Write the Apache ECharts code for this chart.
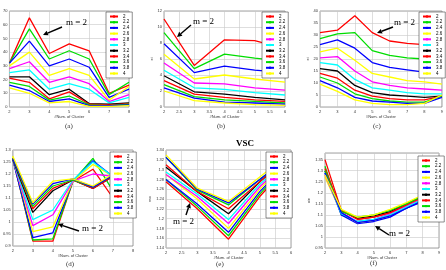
<!DOCTYPE html>
<html>
<head>
<meta charset="utf-8">
<script src="https://cdn.jsdelivr.net/npm/echarts@6/dist/echarts.min.js"></script>
<style>
  html, body { margin: 0; padding: 0; background: #fff; }
  #chart { width: 446px; height: 270px; }
</style>
</head>
<body>
<div id="chart"></div>
<script>
//--------------------------------
// Data
//--------------------------------
const mNames = ['2', '2.2', '2.4', '2.6', '2.8', '3', '3.2', '3.4', '3.6', '3.8', '4'];
const lineColors = ['#ff0000', '#00dd00', '#0000ff', '#ffff00', '#ff00ff', '#00ffff', '#000000',
                    '#ff0000', '#00dd00', '#0000ff', '#ffff00'];

// (a)
const xsA = [2, 3, 4, 5, 6, 7, 8];
const dataA = [
    [32, 65, 39, 46, 41, 10, 16],
    [32, 57, 35, 41, 35, 9, 18],
    [32, 48, 30, 35, 29, 7, 13],
    [30, 40, 23, 28, 23, 5, 15],
    [28, 33, 18, 22, 17, 4, 9],
    [25, 27, 13, 17, 13, 3, 7],
    [22, 22, 9, 13, 2.5, 2, 3],
    [21, 18, 6, 11, 2, 1.5, 2.5],
    [18, 15, 5, 8, 1.5, 1, 2],
    [16, 12, 4, 6, 1, 1, 1.5],
    [14, 10, 3, 4, 0.5, 0.5, 1]
];

// (b)
const xsB = [2, 3, 4, 5, 6];
const dataB = [
    [11, 5.2, 8.4, 8.3, 7.3],
    [9.3, 4.8, 6.6, 6.1, 5.7],
    [7.9, 4.3, 5.1, 4.6, 4.3],
    [6.6, 3.5, 4.0, 3.5, 3.1],
    [5.5, 3.0, 2.9, 2.4, 2.1],
    [4.6, 2.4, 2.2, 1.8, 1.5],
    [3.9, 1.9, 1.6, 1.2, 0.9],
    [3.3, 1.6, 1.2, 0.9, 0.7],
    [2.8, 1.3, 0.9, 0.7, 0.5],
    [2.4, 1.1, 0.6, 0.5, 0.35],
    [2.0, 0.8, 0.5, 0.3, 0.2]
];

// (c)
const xsC = [2, 3, 4, 5, 6, 7, 8, 9];
const dataC = [
    [31, 32, 38, 31, 27.5, 26.5, 26, 25],
    [28.5, 30.5, 31, 23.5, 21.5, 20.5, 20, 19.5],
    [26, 28, 24.5, 18.5, 16.5, 15.5, 14.5, 13.5],
    [23, 24.5, 19.5, 14, 12.5, 11, 10.5, 9.5],
    [20.5, 21, 15, 10.5, 9, 8, 7.5, 7],
    [18.5, 17.5, 11.5, 8, 7, 6, 5.5, 5.5],
    [16, 15, 9, 6, 5, 4.5, 4, 4.5],
    [14, 12, 7, 4.5, 3.5, 3, 3, 4.5],
    [12.5, 10, 5.5, 3.5, 2.5, 2, 2, 4.5],
    [11, 8, 4, 2.5, 2, 1.5, 1.5, 4],
    [9.5, 6.5, 3, 1.5, 1, 1, 1.5, 5]
];

// (d)
const xsD = [2, 3, 4, 5, 6, 7, 8];
const dataD = [
    [1.265, 0.92, 0.92, 1.17, 1.22, 1.10, 1.16],
    [1.265, 0.925, 0.93, 1.17, 1.265, 1.13, 1.19],
    [1.26, 0.935, 0.955, 1.17, 1.255, 1.19, 1.20],
    [1.27, 0.96, 0.98, 1.17, 1.24, 1.19, 1.22],
    [1.26, 0.985, 1.03, 1.17, 1.20, 1.19, 1.21],
    [1.26, 1.01, 1.05, 1.175, 1.25, 1.19, 1.21],
    [1.26, 1.04, 1.13, 1.175, 1.14, 1.19, 1.21],
    [1.265, 1.055, 1.14, 1.175, 1.14, 1.19, 1.21],
    [1.265, 1.065, 1.15, 1.175, 1.145, 1.195, 1.21],
    [1.265, 1.075, 1.16, 1.18, 1.145, 1.195, 1.20],
    [1.275, 1.08, 1.17, 1.18, 1.15, 1.20, 1.22]
];

// (e)
const xsE = [2, 3, 4, 5, 6];
const dataE = [
    [1.275, 1.22, 1.158, 1.245, 1.315],
    [1.28, 1.225, 1.165, 1.25, 1.32],
    [1.28, 1.23, 1.172, 1.255, 1.32],
    [1.29, 1.24, 1.18, 1.26, 1.325],
    [1.29, 1.245, 1.19, 1.265, 1.325],
    [1.295, 1.25, 1.198, 1.27, 1.325],
    [1.305, 1.255, 1.21, 1.275, 1.33],
    [1.31, 1.255, 1.22, 1.275, 1.33],
    [1.325, 1.258, 1.228, 1.28, 1.33],
    [1.325, 1.26, 1.232, 1.28, 1.33],
    [1.33, 1.262, 1.235, 1.285, 1.335]
];

// (f)
const xsF = [2, 3, 4, 5, 6, 7, 8];
const dataF = [
    [1.35, 1.12, 1.08, 1.09, 1.11, 1.14, 1.17],
    [1.32, 1.10, 1.07, 1.08, 1.10, 1.13, 1.17],
    [1.29, 1.10, 1.06, 1.07, 1.09, 1.13, 1.16],
    [1.27, 1.11, 1.065, 1.075, 1.10, 1.14, 1.17],
    [1.28, 1.11, 1.07, 1.08, 1.105, 1.14, 1.175],
    [1.29, 1.105, 1.07, 1.08, 1.10, 1.135, 1.17],
    [1.30, 1.12, 1.085, 1.095, 1.115, 1.15, 1.185],
    [1.31, 1.12, 1.08, 1.09, 1.11, 1.145, 1.18],
    [1.30, 1.115, 1.09, 1.10, 1.12, 1.15, 1.185],
    [1.29, 1.11, 1.065, 1.075, 1.095, 1.13, 1.165],
    [1.28, 1.125, 1.09, 1.10, 1.125, 1.155, 1.19]
];

const panelLabels = ['(a)', '(b)', '(c)', '(d)', '(e)', '(f)'];
const yNames = ['', 'ei', 'ei', '', 'vsc', 'xie'];

//--------------------------------
// Layout
//--------------------------------
const panels = [
    { xs: xsA, rows: dataA, grid: [7, 11, 122, 96], x: [2, 8, 1], y: [0, 70, 10], legend: [106, 12], lab: [71, 128] },
    { xs: xsB, rows: dataB, grid: [164, 11, 121, 96], x: [2, 6, 0.5], y: [0, 12, 2], legend: [262, 12], lab: [223, 128] },
    { xs: xsC, rows: dataC, grid: [320, 11, 122, 96], x: [2, 9, 1], y: [0, 40, 5], legend: [419, 12], lab: [379, 128] },
    { xs: xsD, rows: dataD, grid: [11, 150, 122, 96], x: [2, 8, 1], y: [0.9, 1.3, 0.05], legend: [110, 152], lab: [72, 266] },
    { xs: xsE, rows: dataE, grid: [166, 150, 125, 98], x: [2, 6, 0.5], y: [1.14, 1.34, 0.02], legend: [266, 152], lab: [222, 266] },
    { xs: xsF, rows: dataF, grid: [325, 153, 114, 95], x: [2, 9, 1], y: [0.95, 1.38, 0.05], legend: [418, 156], lab: [376, 265] }
];

const serif = 'Liberation Serif';
const grids = [], xAxes = [], yAxes = [], legends = [], series = [], graphics = [];

panels.forEach((p, i) => {
    grids.push({
        left: p.grid[0], top: p.grid[1], width: p.grid[2], height: p.grid[3],
        show: true, borderColor: '#666', borderWidth: 0.6, backgroundColor: '#fff'
    });
    xAxes.push({
        type: 'value', gridIndex: i, min: p.x[0], max: p.x[1], interval: p.x[2],
        name: '#Num. of Cluster', nameLocation: 'middle', nameGap: 8,
        nameTextStyle: { fontSize: 4, color: '#333' },
        axisLine: { show: false }, axisTick: { show: false },
        axisLabel: { fontSize: 4, color: '#333', margin: 3 },
        splitLine: { lineStyle: { color: '#c8c8c8', width: 0.6 } }
    });
    yAxes.push({
        type: 'value', gridIndex: i, min: p.y[0], max: p.y[1], interval: p.y[2],
        name: yNames[i], nameLocation: 'middle', nameGap: 10,
        nameTextStyle: { fontSize: 4, color: '#333' },
        axisLine: { show: false }, axisTick: { show: false },
        axisLabel: { fontSize: 4, color: '#333', margin: 2, showMaxLabel: i !== 5 },
        splitLine: { lineStyle: { color: '#c8c8c8', width: 0.6 } }
    });
    legends.push({
        left: p.legend[0], top: p.legend[1], orient: 'vertical', data: mNames,
        itemWidth: 8, itemHeight: 3, itemGap: 0.7, padding: [2, 3, 2, 3],
        borderColor: '#444', borderWidth: 0.6, backgroundColor: '#fff',
        textStyle: { fontSize: 4.5, color: '#000', lineHeight: 4.5, padding: 0 },
        selectedMode: false, z: 10
    });
    p.rows.forEach((row, j) => {
        series.push({
            type: 'line', name: mNames[j], xAxisIndex: i, yAxisIndex: i,
            data: p.xs.map((x, k) => [x, row[k]]),
            symbol: 'none', silent: true,
            lineStyle: { width: 1.3, color: lineColors[j] },
            itemStyle: { color: lineColors[j] }
        });
    });
    graphics.push({
        type: 'text', left: p.lab[0] - 6, top: p.lab[1] - 5,
        style: { text: panelLabels[i], font: '7px ' + serif, fill: '#333' }
    });
});

// "m = 2" annotations: [text x, text y, arrow from x, y, arrow to x, y]
const notes = [
    [66, 18, 62, 27, 43, 35],
    [193, 17, 191, 25, 177, 37],
    [394, 18, 393, 27, 377, 33],
    [82, 224, 79, 231, 58, 224],
    [173, 217, 186, 215, 190, 203],
    [389, 229, 389, 235, 375, 226]
];
notes.forEach(n => {
    graphics.push({
        type: 'text', left: n[0], top: n[1], z: 20,
        style: { text: 'm = 2', font: '9px ' + serif, fill: '#000' }
    });
    const dx = n[4] - n[2], dy = n[5] - n[3];
    const len = Math.sqrt(dx * dx + dy * dy);
    const ux = dx / len, uy = dy / len;
    const bx = n[4] - ux * 5, by = n[5] - uy * 5;
    graphics.push({
        type: 'line', z: 20,
        shape: { x1: n[2], y1: n[3], x2: bx, y2: by },
        style: { stroke: '#000', lineWidth: 1.4 }
    });
    graphics.push({
        type: 'polygon', z: 20,
        shape: { points: [[n[4], n[5]], [bx - uy * 2.5, by + ux * 2.5], [bx + uy * 2.5, by - ux * 2.5]] },
        style: { fill: '#000' }
    });
});

graphics.push({
    type: 'text', left: 236, top: 139, z: 20,
    style: { text: 'VSC', font: 'bold 9px ' + serif, fill: '#000' }
});

//--------------------------------
// Chart
//--------------------------------
const myChart = echarts.init(document.getElementById('chart'), null, { renderer: 'canvas' });
myChart.setOption({
    animation: false,
    backgroundColor: '#fff',
    grid: grids,
    xAxis: xAxes,
    yAxis: yAxes,
    legend: legends,
    series: series,
    graphic: graphics
});
</script>
</body>
</html>
